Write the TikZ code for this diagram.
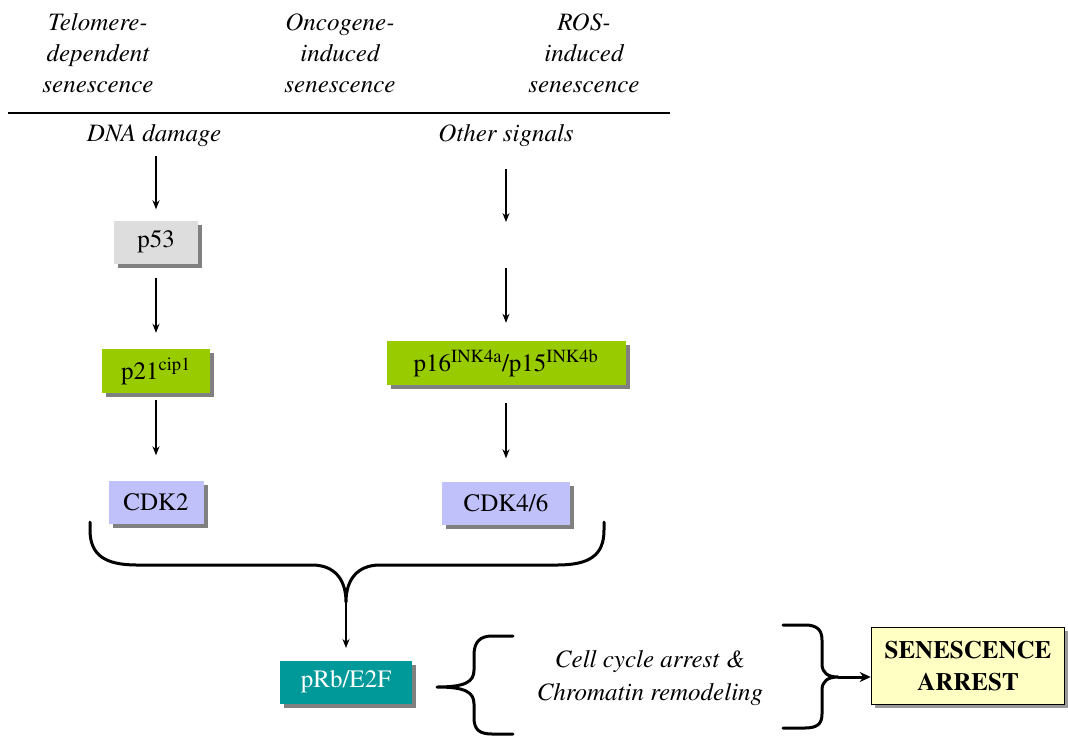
\documentclass[tikz,border=0pt]{standalone}
\usepackage[T1]{fontenc}
\usepackage{mathptmx}
\usetikzlibrary{arrows.meta, shadows}

\definecolor{boxgray}{RGB}{221,221,221}
\definecolor{boxgreen}{RGB}{153,204,0}
\definecolor{boxblue}{RGB}{192,192,250}
\definecolor{boxteal}{RGB}{0,153,153}
\definecolor{boxyellow}{RGB}{255,255,196}

\tikzset{
    txt/.style={font=\fontsize{25}{31}\selectfont},
    lbl/.style={font=\fontsize{25}{31}\selectfont\itshape, align=center, inner sep=0pt},
    gene/.style={txt, minimum height=43pt, inner sep=0pt,
        drop shadow={shadow xshift=4pt, shadow yshift=-4pt, fill=black!50, opacity=1}},
    arr/.style={line width=1.4pt, -{Stealth[length=9pt, width=7pt]}},
    brace/.style={line width=3pt, line cap=round, line join=round}
}

\begin{document}
\begin{tikzpicture}[x=1pt, y=-1pt]
    \useasboundingbox (0,0) rectangle (1068,737);

    \node[lbl] (tel) at (98,53) {Telomere-\\dependent\\senescence};
    \node[lbl] (onc) at (340,53) {Oncogene-\\induced\\senescence};
    \node[lbl] (ros) at (584,53) {ROS-\\induced\\senescence};
    \draw[line width=1.5pt] (8,113) -- (670,113);

    \node[lbl] (dna) at (154,136) {DNA damage};
    \node[lbl] (other) at (506,136) {Other signals};

    \node[gene, fill=boxgray, minimum width=84pt] (p53) at (156,242) {p53};
    \node[gene, fill=boxgreen, minimum width=108pt, minimum height=44pt] (p21) at (156,371) {p21\textsuperscript{cip1}};
    \node[gene, fill=boxblue, minimum width=95pt] (cdk2) at (156,502) {CDK2};

    \coordinate (gapA) at (506,222);
    \coordinate (gapB) at (506,268);
    \node[gene, fill=boxgreen, minimum width=239pt, minimum height=44pt] (p16) at (506,363) {p16\textsuperscript{INK4a}/p15\textsuperscript{INK4b}};
    \node[gene, fill=boxblue, minimum width=128pt] (cdk46) at (506,503) {CDK4/6};

    \node[gene, fill=boxteal, text=white, minimum width=132pt] (prb) at (346,682) {pRb/E2F};
    \node[lbl, font=\fontsize{25}{33}\selectfont\itshape] (cell) at (650,678) {Cell cycle arrest \&\\Chromatin remodeling};
    \node[txt, font=\fontsize{25}{32}\selectfont\bfseries, align=center, draw, line width=1.5pt,
        fill=boxyellow, minimum width=193pt, minimum height=77pt, inner sep=0pt,
        drop shadow={shadow xshift=3pt, shadow yshift=-3pt, fill=black!40, opacity=1}] (sen) at (968,666) {SENESCENCE\\ARREST};

    % arrows
    \draw[arr, shorten <=9pt, shorten >=11pt] (dna.south -| p53) -- (p53);
    \draw[arr, shorten <=14pt, shorten >=16pt] (p53) -- (p21);
    \draw[arr, shorten <=7pt, shorten >=25pt] (p21) -- (cdk2);
    \draw[arr, shorten <=22pt] (other) -- (gapA);
    \draw[arr, shorten >=18pt] (gapB) -- (p16);
    \draw[arr, shorten <=18pt, shorten >=23pt] (p16) -- (cdk46);

    % braces
    \coordinate (join) at (346,602);
    \draw[brace] (90,522) -- (90,530) .. controls (90,555) and (105,565) .. (137,565) -- (312,565)
        .. controls (335,565) and (346,580) .. (join)
        .. controls (346,580) and (357,565) .. (380,565) -- (557,565)
        .. controls (590,565) and (604,555) .. (604,530) -- (604,522);
    \draw[arr] (join) -- (prb.north |- 0,648);

    \draw[brace] (513,636) -- (492,636) .. controls (480,636) and (474,642) .. (474,655) -- (474,670)
        .. controls (474,682) and (465,687) .. (437,687)
        .. controls (465,687) and (474,692) .. (474,704) -- (474,718)
        .. controls (474,730) and (480,734) .. (492,734) -- (513,734);

    \coordinate (tip) at (838,677);
    \draw[brace] (783,625) -- (805,625) .. controls (817,625) and (822,630) .. (822,640) -- (822,664)
        .. controls (822,673) and (828,677) .. (tip)
        .. controls (828,677) and (822,681) .. (822,690) -- (822,714)
        .. controls (822,724) and (817,728) .. (805,728) -- (783,728);
    \draw[line width=3pt, -{Stealth[length=11pt, width=10pt]}] (tip) -- (tip -| sen.west);
\end{tikzpicture}
\end{document}
